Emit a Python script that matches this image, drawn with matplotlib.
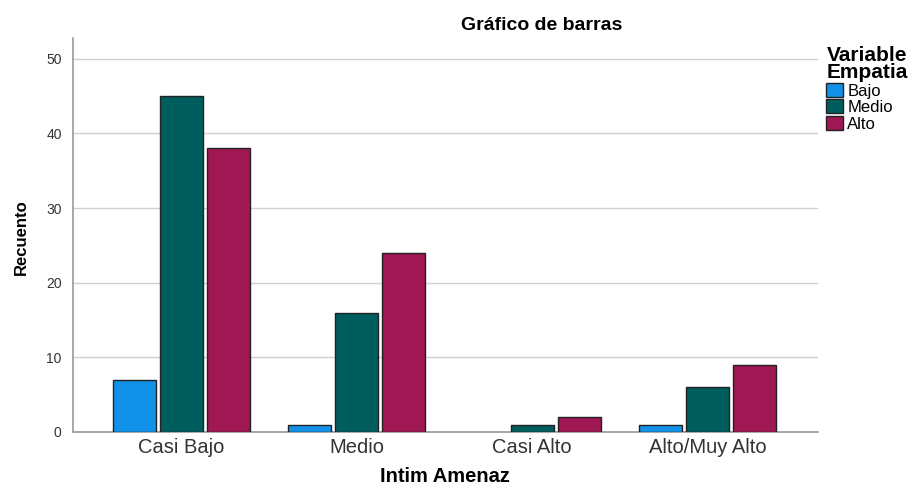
import matplotlib.pyplot as plt
import numpy as np

plt.rcParams['font.family'] = ['Liberation Sans', 'DejaVu Sans']

categories = ['Casi Bajo', 'Medio', 'Casi Alto', 'Alto/Muy Alto']
series_names = ['Bajo', 'Medio', 'Alto']
bajo = [7, 1, 0, 1]
medio = [45, 16, 1, 6]
alto = [38, 24, 2, 9]
colors = ['#1192e8', '#005d5d', '#9f1853']


def main():
    fig = plt.figure(figsize=(9.1, 4.87), dpi=100)
    ax = fig.add_axes([0.080, 0.113, 0.819, 0.809])

    x = np.arange(len(categories))
    width = 0.245
    step = 0.268
    for i, (vals, name) in enumerate(zip([bajo, medio, alto], series_names)):
        # zero counts get no outline, like SPSS
        lw = [1 if v > 0 else 0 for v in vals]
        ax.bar(x + (i - 1) * step, vals, width, color=colors[i],
               edgecolor='#222222', linewidth=lw, label=name, zorder=3)

    ax.set_xlim(-0.62, 3.63)
    ax.set_ylim(0, 52.8)
    ax.set_yticks([0, 10, 20, 30, 40, 50])
    ax.yaxis.grid(True, color='#d0d0d0', linewidth=1, zorder=0)
    ax.set_xticks(x)
    ax.set_xticklabels(categories, fontsize=14.5, color='#333333')
    ax.tick_params(axis='y', labelsize=10, length=0, pad=8, colors='#333333')
    ax.tick_params(axis='x', length=0, pad=4)
    for s in ['top', 'right']:
        ax.spines[s].set_visible(False)
    for s in ['left', 'bottom']:
        ax.spines[s].set_color('#9a9a9a')
        ax.spines[s].set_linewidth(1.2)

    fig.text(0.489, 0.022, 'Intim Amenaz', fontsize=14.5, fontweight='bold',
             ha='center', va='center')
    fig.text(0.024, 0.513, 'Recuento', fontsize=12, fontweight='bold',
             rotation=90, ha='center', va='center')
    fig.text(0.595, 0.947, 'Gráfico de barras', fontsize=14, fontweight='bold',
             ha='center', va='center')

    leg = ax.legend(loc='upper left', bbox_to_anchor=(1.0, 1.0), frameon=False,
                    title='Variable\nEmpatia', fontsize=12, handlelength=1.0,
                    handleheight=0.9, handletextpad=0.25, labelspacing=0.05,
                    borderaxespad=0.3, borderpad=0.2)
    leg.get_title().set_fontweight('bold')
    leg.get_title().set_fontsize(15)
    leg.get_title().set_linespacing(0.85)
    leg._legend_box.align = 'left'
    for h in leg.legend_handles:
        h.set_edgecolor('#222222')
        h.set_linewidth(1)

    plt.savefig('out.png')


main()
